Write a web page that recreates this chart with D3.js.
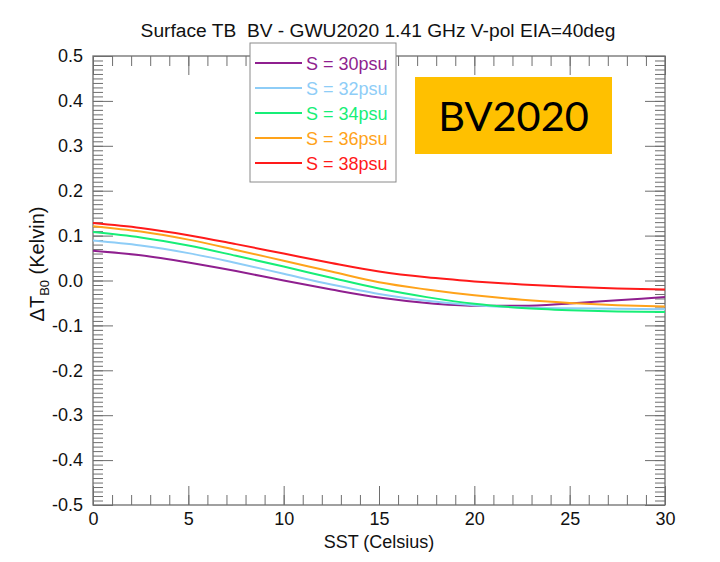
<!DOCTYPE html>
<html>
<head>
<meta charset="utf-8">
<script src="https://cdn.jsdelivr.net/npm/d3@7"></script>
<style>
  html, body { margin: 0; padding: 0; background: #fff; }
  svg { display: block; }
  text { font-family: "Liberation Sans", Arial, Helvetica, sans-serif; white-space: pre; }
</style>
</head>
<body>
<div id="chart"></div>
<script>
// Sea surface temperature grid (Celsius)
const sst = [0, 2.5, 5, 7.5, 10, 12.5, 15, 17.5, 20, 22.5, 25, 27.5, 30];

// Brightness temperature change (Kelvin) for each salinity
const salinities = ["S = 30psu", "S = 32psu", "S = 34psu", "S = 36psu", "S = 38psu"];
const s30 = [0.066, 0.056, 0.040, 0.021, 0.000, -0.020, -0.038, -0.050, -0.056, -0.056, -0.051, -0.044, -0.037];
const s32 = [0.089, 0.078, 0.061, 0.039, 0.015, -0.009, -0.030, -0.045, -0.055, -0.060, -0.062, -0.063, -0.064];
const s34 = [0.108, 0.096, 0.078, 0.055, 0.031, 0.006, -0.018, -0.037, -0.052, -0.061, -0.066, -0.069, -0.070];
const s36 = [0.121, 0.109, 0.091, 0.068, 0.044, 0.020, -0.004, -0.020, -0.033, -0.043, -0.050, -0.055, -0.058];
const s38 = [0.128, 0.117, 0.101, 0.081, 0.060, 0.039, 0.020, 0.007, -0.002, -0.009, -0.014, -0.018, -0.020];
const seriesValues = [s30, s32, s34, s36, s38];
const colors = ["#8f1f8f", "#8ecdf7", "#17ee77", "#ffa31a", "#ff1a1a"];

const xTicks = [0, 5, 10, 15, 20, 25, 30];
const yTicks = [0.5, 0.4, 0.3, 0.2, 0.1, 0.0, -0.1, -0.2, -0.3, -0.4, -0.5];

const W = 720, H = 562;
const m = { left: 93, right: 55, top: 56, bottom: 57 };

const svg = d3.select("#chart").append("svg").attr("width", W).attr("height", H);

const x = d3.scaleLinear().domain([0, 30]).range([m.left, W - m.right]);
const y = d3.scaleLinear().domain([-0.5, 0.5]).range([H - m.bottom, m.top]);

const axisColor = "#6e6e6e";
const FS = 18;

// Frame ticks: major and minor on all four sides, pointing inward
function tickAxis(axisFn, scale, major, minor, majorLen, minorLen, tr) {
  const gMinor = svg.append("g").attr("transform", tr)
    .call(axisFn(scale).tickValues(minor).tickSize(-minorLen).tickFormat(""));
  const gMajor = svg.append("g").attr("transform", tr)
    .call(axisFn(scale).tickValues(major).tickSize(-majorLen).tickFormat(""));
  [gMinor, gMajor].forEach(g => {
    g.select(".domain").remove();
    g.selectAll("line").attr("stroke", axisColor).attr("stroke-width", 1);
  });
}
const xMinor = d3.range(0, 31, 1);
const yMinor = d3.range(-50, 51, 1).map(d => d / 100);
tickAxis(d3.axisBottom, x, xTicks, xMinor, 19, 10, `translate(0,${H - m.bottom})`);
tickAxis(d3.axisTop, x, xTicks, xMinor, 19, 10, `translate(0,${m.top})`);
tickAxis(d3.axisLeft, y, yTicks, yMinor, 20, 10, `translate(${m.left},0)`);
tickAxis(d3.axisRight, y, yTicks, yMinor, 20, 10, `translate(${W - m.right},0)`);

svg.append("rect")
  .attr("x", m.left).attr("y", m.top)
  .attr("width", W - m.left - m.right).attr("height", H - m.top - m.bottom)
  .attr("fill", "none").attr("stroke", axisColor).attr("stroke-width", 1.3);

// Tick labels
const xLab = svg.append("g").attr("transform", `translate(0,${H - m.bottom})`)
  .call(d3.axisBottom(x).tickValues(xTicks).tickSize(0).tickPadding(7).tickFormat(d3.format("d")));
xLab.select(".domain").remove();
xLab.selectAll("text").attr("font-size", FS).attr("fill", "#111")
  .style("font-family", "Liberation Sans, Arial, sans-serif");

const fmtY = d => d3.format(".1f")(d).replace("\u2212", "-");
const yLab = svg.append("g").attr("transform", `translate(${m.left},0)`)
  .call(d3.axisLeft(y).tickValues(yTicks).tickSize(0).tickPadding(10).tickFormat(fmtY));
yLab.select(".domain").remove();
yLab.selectAll("text").attr("font-size", FS).attr("fill", "#111")
  .style("font-family", "Liberation Sans, Arial, sans-serif");

// Curves
const line = d3.line().x((d, i) => x(sst[i])).y(d => y(d)).curve(d3.curveMonotoneX);
seriesValues.forEach((vals, k) => {
  svg.append("path").datum(vals)
    .attr("d", line).attr("fill", "none")
    .attr("stroke", colors[k]).attr("stroke-width", 2);
});

// Title and axis titles
svg.append("text").attr("x", 378).attr("y", 37).attr("text-anchor", "middle")
  .attr("font-size", 19.2).attr("fill", "#111")
  .text("Surface TB  BV - GWU2020 1.41 GHz V-pol EIA=40deg");

svg.append("text").attr("x", (m.left + W - m.right) / 2).attr("y", 548).attr("text-anchor", "middle")
  .attr("font-size", FS).attr("fill", "#111").text("SST (Celsius)");

const yt = svg.append("text").attr("transform", `translate(44,264) rotate(-90)`)
  .attr("text-anchor", "middle").attr("font-size", 20).attr("fill", "#111");
yt.append("tspan").text("ΔT");
yt.append("tspan").attr("font-size", 13).attr("dy", 5).text("B0");
yt.append("tspan").attr("dy", -5).text(" (Kelvin)");

// Legend
const lg = svg.append("g");
lg.append("rect").attr("x", 250).attr("y", 43).attr("width", 146).attr("height", 139)
  .attr("fill", "#fff").attr("stroke", "#8a8a8a").attr("stroke-width", 1);
salinities.forEach((s, k) => {
  const yy = 63 + k * 25;
  lg.append("line").attr("x1", 255).attr("x2", 302).attr("y1", yy).attr("y2", yy)
    .attr("stroke", colors[k]).attr("stroke-width", 2);
  lg.append("text").attr("x", 306).attr("y", yy + 6.5).attr("font-size", FS)
    .attr("fill", colors[k]).text(s);
});

// Model tag
svg.append("rect").attr("x", 415).attr("y", 77).attr("width", 197).attr("height", 77)
  .attr("fill", "#ffc000");
svg.append("text").attr("x", 513.5).attr("y", 131).attr("text-anchor", "middle")
  .attr("font-size", 41.5).attr("fill", "#000")
  .style("font-family", "Lato, 'Open Sans', sans-serif").text("BV2020");
</script>
</body>
</html>
